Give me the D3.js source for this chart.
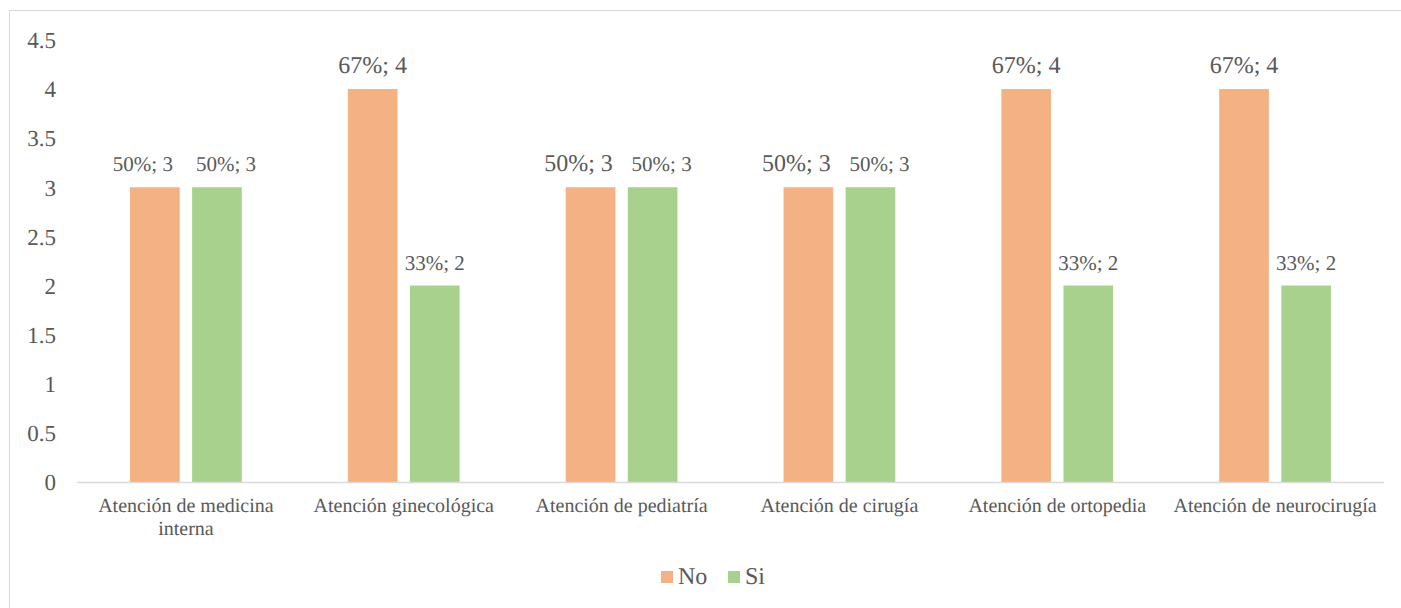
<!DOCTYPE html>
<html>
<head>
<meta charset="utf-8">
<script src="https://cdn.jsdelivr.net/npm/d3@7"></script>
<style>
  html, body { margin: 0; padding: 0; background: #ffffff; }
  svg { display: block; font-family: 'Liberation Serif', serif; }
  svg text { font-family: 'Liberation Serif', serif !important; fill: #595959; text-rendering: geometricPrecision; }
</style>
</head>
<body>
<svg id="chart" width="1401" height="608"></svg>
<script>
const categories = [
  ["Atención de medicina", "interna"],
  ["Atención ginecológica"],
  ["Atención de pediatría"],
  ["Atención de cirugía"],
  ["Atención de ortopedia"],
  ["Atención de neurocirugía"]
];
const seriesNames = ["No", "Si"];
const noValues = [3, 4, 3, 3, 4, 4];
const siValues = [3, 2, 3, 3, 2, 2];
const noPercents = ["50%", "67%", "50%", "50%", "67%", "67%"];
const siPercents = ["50%", "33%", "50%", "50%", "33%", "33%"];
const yTicks = [0, 0.5, 1, 1.5, 2, 2.5, 3, 3.5, 4, 4.5];
const colors = { No: "#F4B183", Si: "#A9D18E" };
const SERIF = "font-family:'Liberation Serif',serif";

const svg = d3.select("#chart");

// outer frame
svg.append("rect")
  .attr("x", 9.5).attr("y", 10.5)
  .attr("width", 1400).attr("height", 610)
  .attr("fill", "none").attr("stroke", "#d9d9d9").attr("stroke-width", 1);

const plot = { left: 77, right: 1384, top: 39.9, bottom: 482 };

const y = d3.scaleLinear().domain([0, 4.5]).range([plot.bottom, plot.top]);
const x0 = d3.scaleBand()
  .domain(d3.range(categories.length))
  .range([plot.left, plot.right])
  .padding(0);
const bw = x0.bandwidth();
const x1 = d3.scaleBand()
  .domain(seriesNames)
  .range([bw * 0.2435, bw * 0.7565])
  .paddingInner(0.2)
  .paddingOuter(0);

// y axis tick labels
const yAxis = d3.axisLeft(y).tickValues(yTicks).tickSize(0).tickPadding(0)
  .tickFormat(d => String(d));
const yg = svg.append("g").attr("transform", `translate(56,0)`).call(yAxis);
yg.attr("font-family", null).attr("font-size", null);
yg.select(".domain").remove();
yg.selectAll("text")
  .attr("style", SERIF)
  .attr("font-size", 23)
  .attr("fill", "#595959")
  .attr("dy", "0.34em");

// bars
const data = categories.map((c, i) => ({
  i,
  values: [
    { s: "No", v: noValues[i], p: noPercents[i] },
    { s: "Si", v: siValues[i], p: siPercents[i] }
  ]
}));

const groups = svg.append("g").selectAll("g.cat")
  .data(data).join("g")
  .attr("class", "cat")
  .attr("transform", d => `translate(${x0(d.i)},0)`);

groups.selectAll("rect")
  .data(d => d.values.map(v => ({ ...v, i: d.i })))
  .join("rect")
  .attr("x", d => x1(d.s))
  .attr("width", x1.bandwidth())
  .attr("y", d => y(d.v))
  .attr("height", d => y(0) - y(d.v))
  .attr("fill", d => colors[d.s]);

// labels: when both bars in a category have equal height, labels are nudged apart
function labelShift(d) {
  if (noValues[d.i] !== siValues[d.i]) return 0;
  return d.s === "No" ? -12 : 9;
}

groups.selectAll("text.lbl")
  .data(d => d.values.map(v => ({ ...v, i: d.i })))
  .join("text")
  .attr("class", "lbl")
  .attr("style", SERIF)
  .attr("x", d => x1(d.s) + x1.bandwidth() / 2 + labelShift(d))
  .attr("y", d => y(d.v) - 16)
  .attr("text-anchor", "middle")
  .attr("font-size", d => (d.s === "No" && d.i > 0) ? 24 : 21)
  .text(d => `${d.p}; ${d.v}`);

// x axis line
const xAxis = d3.axisBottom(x0).tickSize(0).tickFormat("");
const xg = svg.append("g").attr("transform", `translate(0,${plot.bottom + 0.5})`).call(xAxis);
xg.select(".domain").attr("stroke", "#d9d9d9").attr("stroke-width", 1.5)
  .attr("d", `M${plot.left},0H${plot.right}`);

// category labels
const catLabels = svg.append("g").selectAll("text.cat")
  .data(categories.map((c, i) => ({ c, i })))
  .join("text")
  .attr("class", "cat")
  .attr("style", SERIF)
  .attr("x", d => x0(d.i) + bw / 2)
  .attr("y", 512)
  .attr("text-anchor", "middle")
  .attr("font-size", 20);
catLabels.selectAll("tspan")
  .data(d => d.c.map((line, k) => ({ line, k, x: x0(d.i) + bw / 2 })))
  .join("tspan")
  .attr("x", d => d.x)
  .attr("dy", d => d.k === 0 ? 0 : 23)
  .text(d => d.line);

// legend
const legendItems = [
  { s: "No", x: 661 },
  { s: "Si", x: 728 }
];
const lg = svg.append("g").selectAll("g")
  .data(legendItems).join("g")
  .attr("transform", d => `translate(${d.x},571)`);
lg.append("rect").attr("width", 12).attr("height", 12).attr("fill", d => colors[d.s]);
lg.append("text").attr("style", SERIF).attr("x", 17).attr("y", 13).attr("font-size", 24).text(d => d.s);
</script>
</body>
</html>
